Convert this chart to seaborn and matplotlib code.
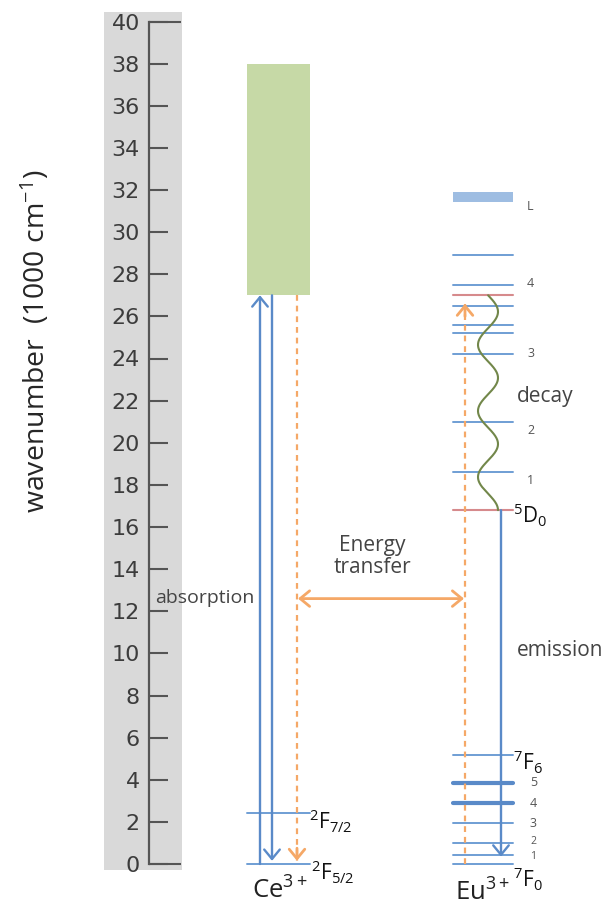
import numpy as np
import pandas as pd
import matplotlib
matplotlib.use("Agg")
import matplotlib.pyplot as plt
from matplotlib.patches import Rectangle
import seaborn as sns

sns.set_theme(style="white")
plt.rcParams['font.family'] = ['Open Sans', 'DejaVu Sans']
plt.rcParams['mathtext.fontset'] = 'custom'
plt.rcParams['mathtext.rm'] = 'Open Sans'
plt.rcParams['mathtext.it'] = 'Open Sans'

# ---- energy data (units of 1000 cm^-1) ----
axis_ticks = list(range(0, 41, 2))

ce_band = [27.0, 38.0]                      # Ce3+ 5d absorption band
ce_levels = [0.0, 2.4]                      # 2F5/2, 2F7/2
ce_labels = [r'$^{2}$F$_{5/2}$', r'$^{2}$F$_{7/2}$']

eu_L_band = [31.45, 31.9]
eu_upper = [28.9, 27.5, 26.5, 25.6, 25.2, 24.2, 21.0, 18.6]
eu_upper_labels = {27.5: '4', 24.2: '3', 21.0: '2', 18.6: '1'}
eu_resonant = 27.0                          # level fed by energy transfer
eu_5d0 = 16.8
eu_7f = [0.0, 0.45, 1.0, 1.93, 2.88, 3.85, 5.18]
eu_7f_labels = ['', '1', '2', '3', '4', '5', '']
eu_7f_thick = [2.88, 3.85]

absorption_top = 27.0
transfer_energy = 12.6
eu_feed_top = 26.6
emission_end = 0.35

# ---- layout (figure pixels on x) ----
W, H = 610, 911
ce_x = (247, 310)
eu_x = (453, 513)
ax_x = 149
x_abs_up, x_abs_down, x_ce_relax = 260, 272, 297
x_eu_feed, x_emis = 465, 501

y0_px, y40_px = 864, 21.5
ppu = (y0_px - y40_px) / 40.0

fig = plt.figure(figsize=(W / 100, H / 100), dpi=100)
ax = fig.add_axes([0, 0, 1, 1])
ax.set_facecolor('none')
ax.set_xlim(0, W)
ax.set_ylim(-(H - y0_px) / ppu, 40 + y40_px / ppu)

# axis styling
for s in ['top', 'right', 'bottom']:
    ax.spines[s].set_visible(False)
ax.spines['left'].set_position(('data', ax_x))
ax.spines['left'].set_bounds(0, 40)
ax.spines['left'].set_color('#555555')
ax.spines['left'].set_linewidth(1.6)
ax.spines['left'].set_zorder(3)
ax.set_yticks(axis_ticks)
ax.set_xticks([])
ax.tick_params(axis='y', direction='in', length=13.7, width=1.5,
               color='#555555', labelsize=16, labelcolor='#3c3c3c', pad=6.5,
               left=True)
for lab in ax.get_yticklabels():
    lab.set_fontfamily('DejaVu Sans')
ax.hlines([axis_ticks[0], axis_ticks[-1]], ax_x, 181, color='#555555', lw=1.5, zorder=3)
ax.grid(False)

# grey backing strip behind the scale
ax.add_patch(Rectangle((104, -6 / ppu), 78, 40 + (6 + 9.5) / ppu,
                       facecolor='#d9d9d9', edgecolor='none', zorder=0, clip_on=False))

ax.text(36, 24.8, 'wavenumber  (1000 cm$^{-1}$)', rotation=90, ha='center', va='center',
        fontsize=20.5, color='#262626')

# ---- Ce3+ ----
ax.add_patch(Rectangle((ce_x[0], ce_band[0]), ce_x[1] - ce_x[0], ce_band[1] - ce_band[0],
                       facecolor='#c6d9a6', edgecolor='none', zorder=1))

blue = '#6f9ed4'
blue_dark = '#5a8ac8'
red = '#d68a8c'
orange = '#f5a867'

rows = []
for i, e in enumerate(ce_levels):
    rows += [dict(id=f'ce{i}', x=ce_x[0], E=e), dict(id=f'ce{i}', x=ce_x[1], E=e)]
for i, e in enumerate(eu_upper + [v for v in eu_7f if v not in eu_7f_thick]):
    rows += [dict(id=f'eu{i}', x=eu_x[0], E=e), dict(id=f'eu{i}', x=eu_x[1], E=e)]
thin = pd.DataFrame(rows)
sns.lineplot(data=thin, x='x', y='E', units='id', estimator=None, color=blue,
             lw=1.4, ax=ax, legend=False)

thick = pd.DataFrame([dict(id=f't{i}', x=xx, E=e) for i, e in enumerate(eu_7f_thick)
                      for xx in eu_x])
sns.lineplot(data=thick, x='x', y='E', units='id', estimator=None, color=blue_dark,
             lw=3.0, ax=ax, legend=False)

reds = pd.DataFrame([dict(id=f'r{i}', x=xx, E=e) for i, e in enumerate([eu_resonant, eu_5d0])
                     for xx in eu_x])
sns.lineplot(data=reds, x='x', y='E', units='id', estimator=None, color=red,
             lw=1.5, ax=ax, legend=False)
ax.set_xlabel('')
ax.set_ylabel('')

ax.add_patch(Rectangle((eu_x[0], eu_L_band[0]), eu_x[1] - eu_x[0], eu_L_band[1] - eu_L_band[0],
                       facecolor='#9ebde2', edgecolor='none', zorder=2))

head = '->,head_length=0.34,head_width=0.28'


def arrow(x0, y0, x1, y1, color, lw=1.7, style=head):
    ax.annotate('', xy=(x1, y1), xytext=(x0, y0),
                arrowprops=dict(arrowstyle=style, color=color, lw=lw,
                                shrinkA=0, shrinkB=0, mutation_scale=20), zorder=4)


def dashed_arrow(x, y0, y1, color):
    ax.plot([x, x], [y0, y1], color=color, lw=1.6, ls=(0, (2.6, 2.2)), zorder=4)
    d = 0.6 if y1 > y0 else -0.6
    arrow(x, y1 - d, x, y1, color, lw=2.0)


# absorption and relaxation in Ce3+
arrow(x_abs_up, ce_levels[0], x_abs_up, absorption_top, blue_dark)
arrow(x_abs_down, absorption_top, x_abs_down, ce_levels[0] + 0.15, blue_dark)
dashed_arrow(x_ce_relax, absorption_top, ce_levels[0] + 0.15, orange)

# energy transfer to Eu3+
arrow(x_ce_relax + 1, transfer_energy, x_eu_feed - 1, transfer_energy, orange, lw=2.0,
      style='<->,head_length=0.34,head_width=0.28')
dashed_arrow(x_eu_feed, eu_7f[0], eu_feed_top, orange)

# non-radiative decay drawn as a wavy path down to 5D0
yy = np.linspace(eu_5d0, eu_resonant, 400)
xx = 488 + 10 * np.cos(np.pi * (yy - eu_5d0) / 1.57)
ax.plot(xx, yy, color='#72874a', lw=1.5, zorder=4)

# emission from 5D0
arrow(x_emis, eu_5d0, x_emis, emission_end, blue_dark)

# ---- labels ----
txt = '#444444'
ax.text(155, transfer_energy + 0.05, 'absorption', ha='left', va='center', fontsize=14, color=txt)
ax.text(372, 14.6, 'Energy\ntransfer', ha='center', va='center', fontsize=15, color=txt,
        linespacing=1.1)
ax.text(517, 22.2, 'decay', ha='left', va='center', fontsize=15, color=txt)
ax.text(517, 10.15, 'emission', ha='left', va='center', fontsize=15, color=txt)

lvl = dict(ha='left', va='center', fontsize=9, color='#555555')
ax.text(527, 31.2, 'L', **lvl)
for e, lab in eu_upper_labels.items():
    off = 0.05 if e > 23 else -0.4
    ax.text(527, e + off, lab, **lvl)
low_off = {'1': -0.08, '2': 0.08}
for e, lab in zip(eu_7f, eu_7f_labels):
    if lab:
        ax.text(530, e + low_off.get(lab, 0.0), lab, ha='left', va='center',
                fontsize=7.5 if lab in low_off else 9, color='#555555')

term = dict(ha='left', va='center', fontsize=15, color='#111111')
ax.text(513, eu_5d0 - 0.25, r'$^{5}$D$_{0}$', **term)
ax.text(513, eu_7f[-1] - 0.35, r'$^{7}$F$_{6}$', **term)
ax.text(513, eu_7f[0] - 0.72, r'$^{7}$F$_{0}$', **term)
ax.text(309, ce_levels[1] - 0.4, ce_labels[1], **term)
ax.text(311, ce_levels[0] - 0.42, ce_labels[0], **term)

ax.text(252, -1.3, r'Ce$^{3+}$', ha='left', va='center', fontsize=18.5, color='#222222')
ax.text(455, -1.4, r'Eu$^{3+}$', ha='left', va='center', fontsize=18.5, color='#222222')

fig.savefig('out.png', dpi=100)
